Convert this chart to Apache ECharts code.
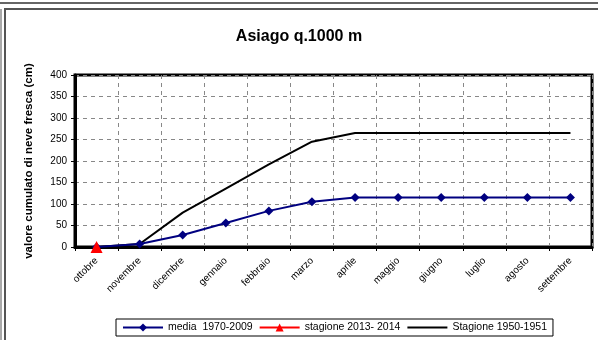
<!DOCTYPE html>
<html>
<head>
    <meta charset="UTF-8">
    <title>Asiago q.1000 m</title>
    <script src="https://cdn.jsdelivr.net/npm/echarts@6/dist/echarts.min.js"></script>
</head>
<body style="margin:0;background:#fff;">
<div id="chart" style="width:598px;height:340px;"></div>
<script type="text/javascript">
    // mesi della stagione
    var mesi = ['ottobre', 'novembre', 'dicembre', 'gennaio', 'febbraio', 'marzo',
        'aprile', 'maggio', 'giugno', 'luglio', 'agosto', 'settembre'];
    var media = [0, 7, 28, 56, 84, 105, 115, 115, 115, 115, 115, 115];
    var stagione2014 = [0, null, null, null, null, null, null, null, null, null, null, null];
    var stagione1951 = [0, 7, 80, 136, 192, 245, 265, 265, 265, 265, 265, 265];
    var yTicks = [0, 50, 100, 150, 200, 250, 300, 350, 400];

    var chart = echarts.init(document.getElementById('chart'));
    var option = {
        animation: false,
        title: {
            text: 'Asiago q.1000 m',
            left: 'center',
            top: 24,
            textStyle: {fontFamily: 'Liberation Sans', fontSize: 16, fontWeight: 'bold', color: '#000'}
        },
        legend: {
            bottom: 4,
            left: 116,
            itemGap: 6,
            itemWidth: 40,
            itemHeight: 10,
            padding: [3, 6],
            borderColor: '#000',
            borderWidth: 1,
            borderRadius: 0,
            textStyle: {fontFamily: 'Liberation Sans', fontSize: 10.5, color: '#000'},
            data: [
                'media  1970-2009',
                'stagione 2013- 2014',
                {name: 'Stagione 1950-1951', itemStyle: {opacity: 0}}
            ]
        },
        grid: {
            left: 75, right: 6, top: 75, bottom: 93,
            show: true,
            borderColor: '#000',
            borderWidth: 3
        },
        xAxis: {
            type: 'category',
            data: mesi,
            boundaryGap: true,
            axisLine: {lineStyle: {color: '#000', width: 3}},
            axisTick: {show: true, length: 4, lineStyle: {color: '#000'}},
            splitLine: {show: true, lineStyle: {color: '#888', type: [4, 4]}},
            axisLabel: {
                rotate: 45, interval: 0, margin: 12,
                fontFamily: 'Liberation Sans', fontSize: 10, color: '#000'
            }
        },
        yAxis: {
            type: 'value',
            min: yTicks[0],
            max: yTicks[yTicks.length - 1],
            interval: 50,
            name: 'valore cumulato di neve fresca (cm)',
            nameLocation: 'middle',
            nameGap: 40,
            nameTextStyle: {fontFamily: 'Liberation Sans', fontSize: 11.5, fontWeight: 'bold', color: '#000'},
            axisLine: {show: true, lineStyle: {color: '#000', width: 3}},
            axisTick: {show: true, length: 4, lineStyle: {color: '#000'}},
            splitLine: {show: true, lineStyle: {color: '#888', type: [4, 4]}},
            axisLabel: {fontFamily: 'Liberation Sans', fontSize: 10, color: '#000', margin: 8}
        },
        series: [
            {
                name: 'media  1970-2009',
                type: 'line',
                data: media,
                symbol: 'diamond',
                symbolSize: 9,
                itemStyle: {color: '#000080'},
                lineStyle: {color: '#000080', width: 2},
                z: 3
            },
            {
                name: 'Stagione 1950-1951',
                type: 'line',
                data: stagione1951,
                symbol: 'none',
                itemStyle: {color: '#000'},
                lineStyle: {color: '#000', width: 2},
                z: 2
            },
            {
                name: 'stagione 2013- 2014',
                type: 'line',
                data: stagione2014,
                symbol: 'triangle',
                symbolSize: 12,
                itemStyle: {color: '#ff0000'},
                lineStyle: {color: '#ff0000', width: 2},
                z: 4
            }
        ],
        graphic: [
            {type: 'line', shape: {x1: 0, y1: 3, x2: 598, y2: 3}, style: {stroke: '#666', lineWidth: 2}},
            {type: 'rect', shape: {x: 5, y: 9, width: 600, height: 340}, style: {fill: null, stroke: '#555', lineWidth: 2}},
            {type: 'line', shape: {x1: 1, y1: 9, x2: 1, y2: 340}, style: {stroke: '#555', lineWidth: 1}}
        ]
    };
    chart.setOption(option);
</script>
</body>
</html>
